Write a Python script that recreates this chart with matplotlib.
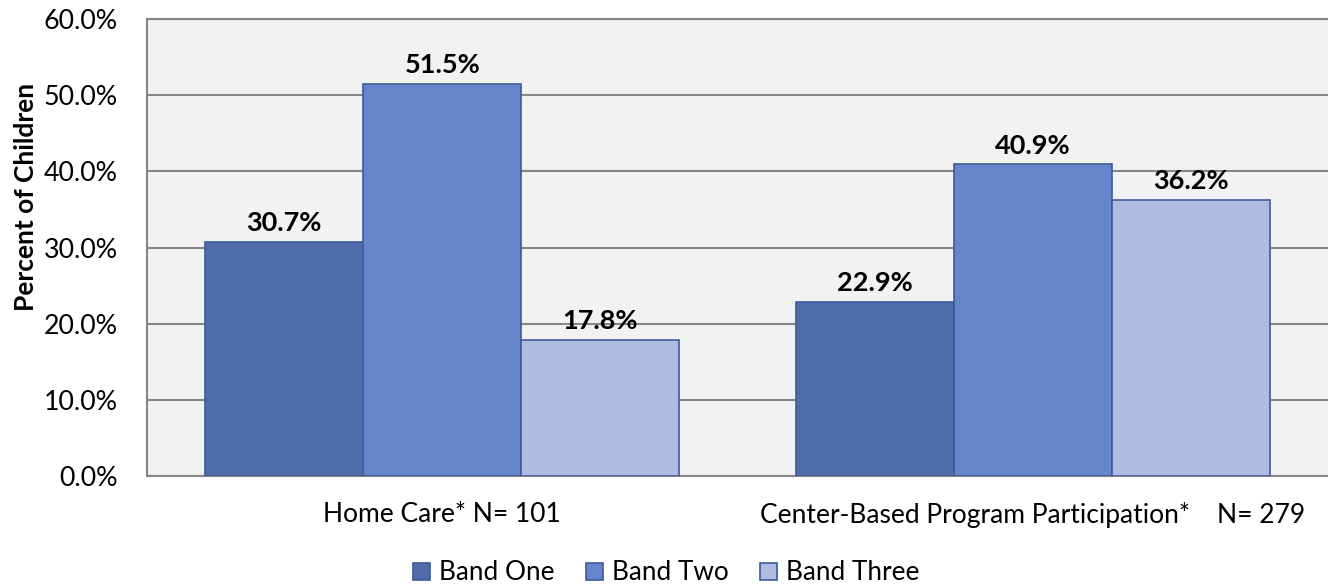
import matplotlib
matplotlib.use("Agg")
import matplotlib.pyplot as plt
import numpy as np

categories = ["Home Care* N= 101", "Center-Based Program Participation*    N= 279"]
series_names = ["Band One", "Band Two", "Band Three"]
band_one = [30.7, 22.9]
band_two = [51.5, 40.9]
band_three = [17.8, 36.2]
y_ticks = [0, 10, 20, 30, 40, 50, 60]

colors = ["#506CAA", "#6685CD", "#AFBCE1"]
edge = "#3E5A98"

plt.rcParams["font.family"] = ["Lato", "DejaVu Sans"]

fig = plt.figure(figsize=(13.28, 5.87), dpi=100)
ax = fig.add_axes([147 / 1328, 1 - 476 / 587, 1 - 147 / 1328, (476 - 19) / 587])
ax.set_facecolor("#F2F2F2")

x = np.arange(len(categories))
width = 0.2676
series = [band_one, band_two, band_three]
for i, (name, vals) in enumerate(zip(series_names, series)):
    pos = x + (i - 1) * width
    bars = ax.bar(pos, vals, width, color=colors[i], edgecolor=edge,
                  linewidth=1.2, label=name, zorder=3)
    for b, v in zip(bars, vals):
        ax.annotate(f"{v:.1f}%", (b.get_x() + b.get_width() / 2, v),
                    xytext=(0, 5), textcoords="offset points",
                    ha="center", va="bottom", fontsize=19.5, fontweight="bold",
                    color="#000000")

ax.set_xlim(-0.5, 1.5)
ax.set_ylim(0, 60)
ax.set_yticks(y_ticks)
ax.set_yticklabels([f"{t:.1f}%" for t in y_ticks], fontsize=19.3)
ax.yaxis.grid(True, color="#868686", linewidth=1.5, zorder=0)
ax.set_axisbelow(True)
ax.tick_params(axis="y", length=0, pad=21)
ax.tick_params(axis="x", length=0, pad=19)
ax.set_xticks(x)
ax.set_xticklabels(categories, fontsize=19)

ax.spines["right"].set_visible(False)
for s in ["left", "bottom", "top"]:
    ax.spines[s].set_color("#868686")
    ax.spines[s].set_linewidth(1.5)

fig.text(26 / 1328, 1 - 197 / 587, "Percent of Children", rotation=90,
         ha="center", va="center", fontsize=19, fontweight="bold")

handles, labels = ax.get_legend_handles_labels()
leg = fig.legend(handles, labels, loc="center", bbox_to_anchor=(666 / 1328, 1 - 573 / 587),
                 ncol=3, frameon=False, fontsize=18.8, handlelength=0.65, handleheight=0.65,
                 handletextpad=0.35, columnspacing=1.2)

fig.savefig("out.png", dpi=100)
